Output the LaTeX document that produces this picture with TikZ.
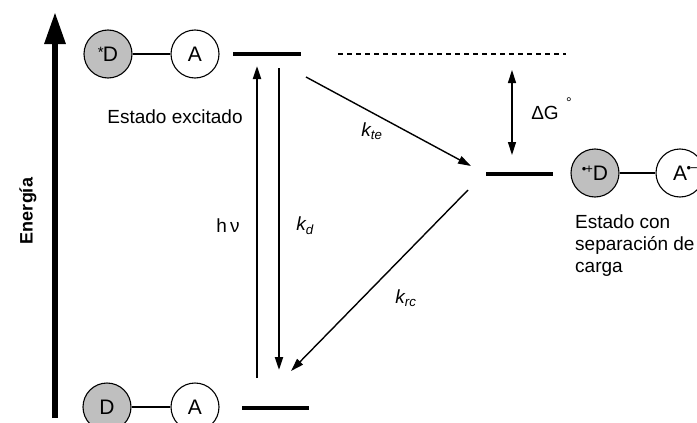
\documentclass[tikz,border=0pt]{standalone}
\usepackage{fontspec}
\setmainfont{Liberation Sans}
\usetikzlibrary{arrows.meta}
\begin{document}
\begin{tikzpicture}[x=1pt,y=-1pt,
  lbl/.style={font=\fontsize{19}{22}\selectfont, inner sep=0pt},
  don/.style={circle, draw, line width=1.1pt, fill=black!25, minimum size=48pt, inner sep=0pt, font=\fontsize{21}{22}\selectfont},
  acc/.style={circle, draw, line width=1.1pt, fill=white, minimum size=48pt, inner sep=0pt, font=\fontsize{21}{22}\selectfont},
  bond/.style={line width=1.1pt},
  level/.style={line width=4pt},
  arr/.style={line width=2pt, -{Triangle[length=13pt,width=8pt]}},
  thin arr/.style={line width=1.4pt, -{Triangle[length=13pt,width=8pt]}}
]
\useasboundingbox (0,0) rectangle (697,423);
% energy axis
\coordinate (eb) at (55,418);
\coordinate (et) at (55,12);
\draw[line width=6pt, -{Triangle[length=32pt,width=20pt]}] (eb) -- (et);
\node[font=\bfseries\fontsize{18}{20}\selectfont, rotate=90, inner sep=0pt] (en) at (28,211) {Energía};

% excited state
\node[don] (dx) at (108,54) {\raisebox{0.2em}{\fontsize{15}{15}\selectfont *}\kern-1pt D};
\node[acc] (ax) at (195,54) {A};
\draw[bond] (dx) -- (ax);
\coordinate (l1a) at (233,54); \coordinate (l1b) at (301,54);
\draw[level] (l1a) -- (l1b);
\coordinate (d1a) at (338,54); \coordinate (d1b) at (566,54);
\draw[line width=1.3pt, dash pattern=on 5pt off 4pt] (d1a) -- (d1b);
\node[lbl] (ex) at (175,117) {Estado excitado};

% charge-separated state
\coordinate (l2a) at (486,174); \coordinate (l2b) at (553,174);
\draw[level] (l2a) -- (l2b);
\node[don] (dp) at (595,173) {\raisebox{0.35em}{\fontsize{13}{13}\selectfont\textbullet\kern-1pt+}D};
\node[acc] (am) at (680,173) {A\makebox[0pt][l]{\kern-0.5pt\raisebox{0.35em}{\fontsize{13}{13}\selectfont\textbullet\kern-1pt−}}};
\draw[bond] (dp) -- (am);
\node[lbl, align=left, anchor=north west] (cs) at (575,215) {Estado con\\separación de\\carga};

% ground state
\node[don] (dg) at (107,407) {D};
\node[acc] (ag) at (195,407) {A};
\draw[bond] (dg) -- (ag);
\coordinate (l0a) at (242,408); \coordinate (l0b) at (309,408);
\draw[level] (l0a) -- (l0b);

% transitions
\coordinate (hvb) at (257,378); \coordinate (hvt) at (257,66);
\draw[arr] (hvb) -- (hvt);
\coordinate (kdt) at (279,68); \coordinate (kdb) at (279,370);
\draw[arr] (kdt) -- (kdb);
\coordinate (tes) at (306,77); \coordinate (tee) at (471,166);
\draw[thin arr] (tes) -- (tee);
\coordinate (rcs) at (468,190); \coordinate (rce) at (291,371);
\draw[thin arr] (rcs) -- (rce);
\coordinate (dgt) at (512,70); \coordinate (dgb) at (512,155);
\draw[line width=1.4pt, {Triangle[length=13pt,width=8pt]}-{Triangle[length=13pt,width=8pt]}] (dgt) -- (dgb);

% labels
\node[lbl] (hv) at (228,226) {h\,ν};
\node[lbl] (kd) at (305,226) {\textit{k\textsubscript{d}}};
\node[lbl] (kte) at (372,131) {\textit{k\textsubscript{te}}};
\node[lbl] (krc) at (406,298) {\textit{k\textsubscript{rc}}};
\node[lbl] (dG) at (545,113) {ΔG};
\node[inner sep=0pt, font=\fontsize{14}{14}\selectfont] (deg) at (569,103) {°};
\end{tikzpicture}
\end{document}
